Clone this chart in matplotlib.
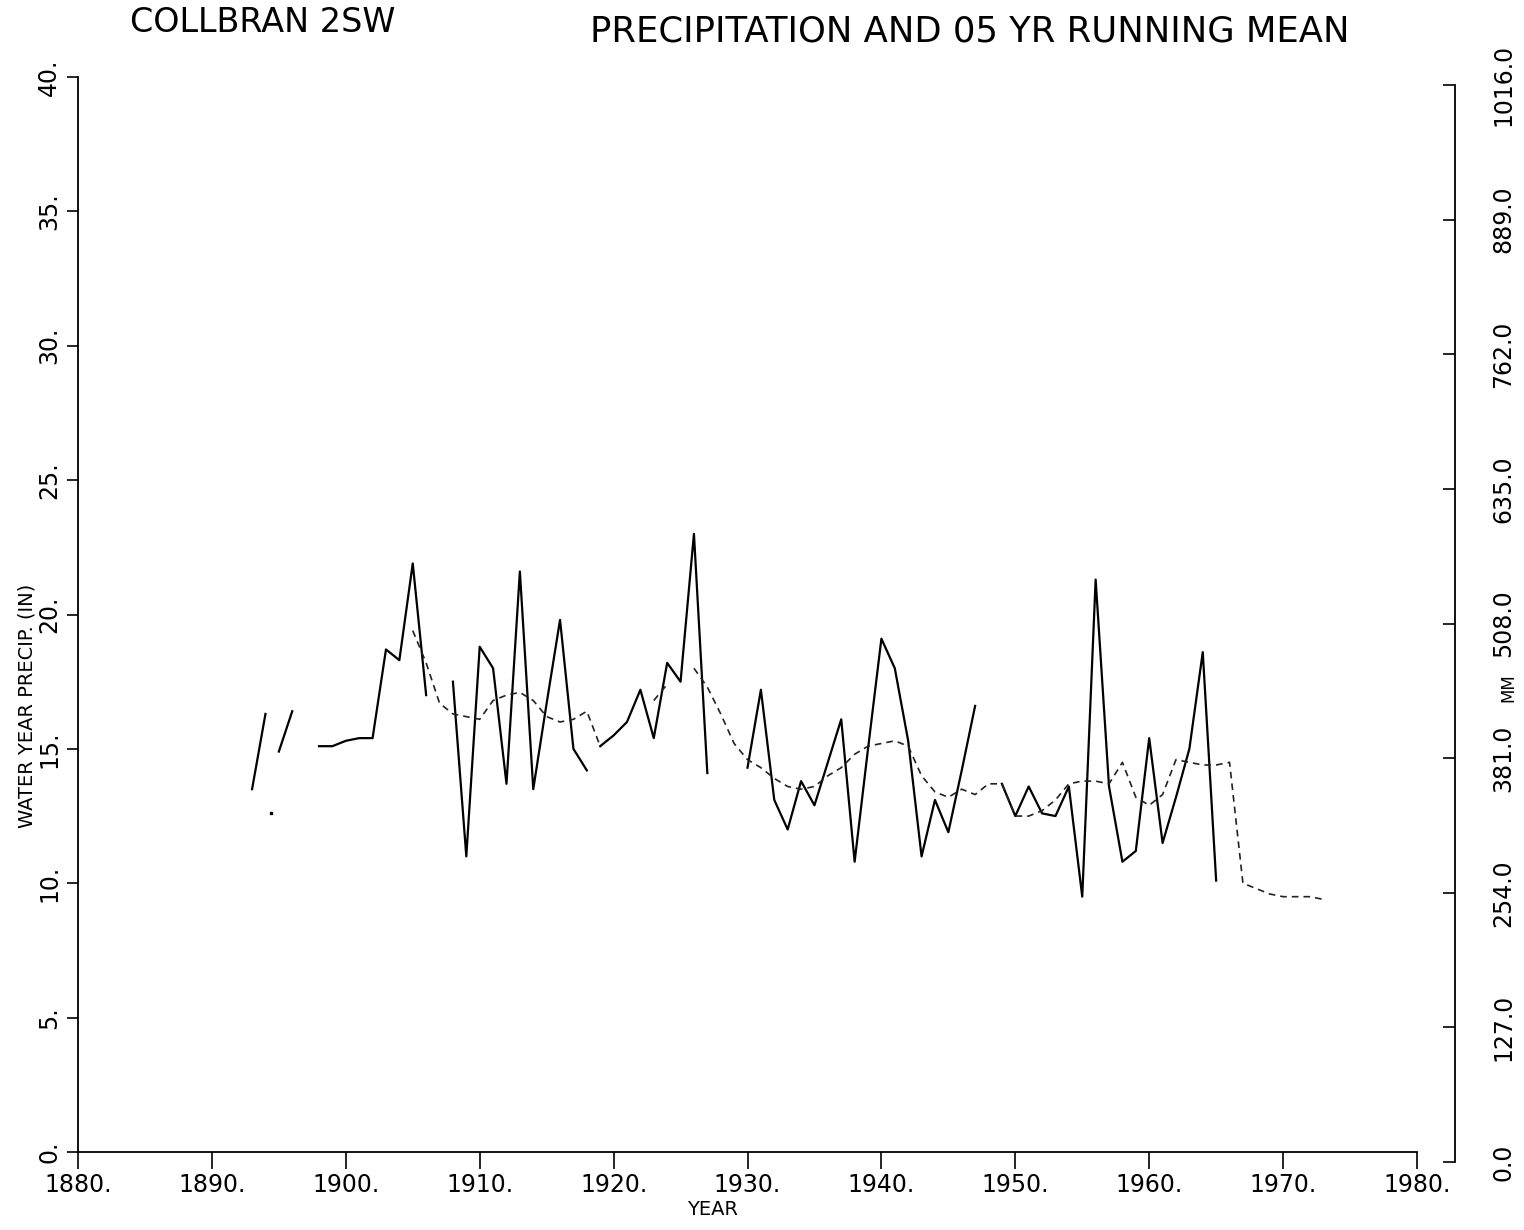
import numpy as np
import matplotlib
matplotlib.use("Agg")
import matplotlib.pyplot as plt

nan = np.nan

# annual water year precipitation (inches), nan = break in the pen line
ann_years = [1893, 1894, 1894.5, 1895, 1896, 1897, 1898, 1899, 1900, 1901,
             1902, 1903, 1904, 1905, 1906, 1907, 1908, 1909, 1910, 1911,
             1912, 1913, 1914, 1915, 1916, 1917, 1918, 1918.5, 1919, 1920,
             1921, 1922, 1923, 1924, 1925, 1926, 1927, 1928, 1929, 1930,
             1931, 1932, 1933, 1934, 1935, 1936, 1937, 1938, 1939, 1940,
             1941, 1942, 1943, 1944, 1945, 1946, 1947, 1948, 1949, 1950,
             1951, 1952, 1953, 1954, 1955, 1956, 1957, 1958, 1959, 1960,
             1961, 1962, 1963, 1964, 1965]
ann_prcp = [13.5, 16.3, nan, 14.9, 16.4, nan, 15.1, 15.1, 15.3, 15.4,
            15.4, 18.7, 18.3, 21.9, 17.0, nan, 17.5, 11.0, 18.8, 18.0,
            13.7, 21.6, 13.5, 16.7, 19.8, 15.0, 14.2, nan, 15.1, 15.5,
            16.0, 17.2, 15.4, 18.2, 17.5, 23.0, 14.1, nan, nan, 14.3,
            17.2, 13.1, 12.0, 13.8, 12.9, 14.5, 16.1, 10.8, 15.0, 19.1,
            18.0, 15.3, 11.0, 13.1, 11.9, 14.2, 16.6, nan, 13.7, 12.5,
            13.6, 12.6, 12.5, 13.6, 9.5, 21.3, 13.6, 10.8, 11.2, 15.4,
            11.5, 13.2, 15.0, 18.6, 10.1]

# 5 yr running mean
mean_years = list(range(1905, 1974))
mean_prcp = [19.4, 18.2, 16.7, 16.3, 16.2, 16.1, 16.8, 17.0, 17.1, 16.8,
             16.2, 16.0, 16.1, 16.4, 15.1, nan, nan, nan, 16.8, 17.4,
             nan, 18.0, 17.3, 16.3, 15.2, 14.6, 14.3, 13.9, 13.6, 13.5,
             13.6, 14.0, 14.3, 14.8, 15.1, 15.2, 15.3, 15.1, 14.0, 13.4,
             13.2, 13.5, 13.3, 13.7, 13.7, 12.5, 12.5, 12.7, 13.1, 13.7,
             13.8, 13.8, 13.7, 14.5, 13.2, 12.9, 13.3, 14.6, 14.5, 14.4,
             14.4, 14.5, 10.0, 9.8, 9.6, 9.5, 9.5, 9.5, 9.4]

stray_year = [1894.4]
stray_prcp = [12.6]

x_ticks = list(range(1880, 1990, 10))
in_ticks = [0, 5, 10, 15, 20, 25, 30, 35, 40]
mm_ticks = [0.0, 127.0, 254.0, 381.0, 508.0, 635.0, 762.0, 889.0, 1016.0]

plt.rcParams['font.family'] = ['DejaVu Sans']

fig = plt.figure(figsize=(15.24, 12.30), dpi=100)
ax = fig.add_axes([78/1524, 1 - 1152/1230, (1417-78)/1524, (1152-77)/1230])

ax.plot(ann_years, ann_prcp, color='black', lw=1.6)
ax.plot(mean_years, mean_prcp, color='#222222', lw=1.2, ls=(0, (4, 3)))
ax.plot(stray_year, stray_prcp, 's', color='black', ms=2)

ax.set_xlim(1880, 1980)
ax.set_ylim(0, 40)
ax.spines['top'].set_visible(False)
ax.spines['right'].set_visible(False)
ax.set_xticks(x_ticks)
ax.set_xticklabels([str(t) + '.' for t in x_ticks], fontsize=17)
ax.set_yticks(in_ticks)
ax.set_yticklabels([str(t) + '.' for t in in_ticks], fontsize=17,
                   rotation=90, va='center')
ax.tick_params(axis='x', length=12, width=1.2, pad=3)
ax.tick_params(axis='y', length=8, width=1.2, pad=4)
for s in ax.spines.values():
    s.set_linewidth(1.3)
ax.set_xlabel('YEAR', fontsize=14)
ax.xaxis.set_label_coords(0.474, -0.045)
ax.set_ylabel('WATER YEAR PRECIP. (IN)', fontsize=14)
ax.yaxis.set_label_coords(-0.031, 0.415)

# metric axis on the right
ax2 = fig.add_axes([78/1524, 1 - 1162/1230, (1455-78)/1524, (1162-85)/1230])
ax2.patch.set_visible(False)
for k in ['top', 'left', 'bottom']:
    ax2.spines[k].set_visible(False)
ax2.spines['right'].set_linewidth(1.3)
ax2.set_xticks([])
ax2.yaxis.tick_right()
ax2.set_ylim(0, 1016)
ax2.set_yticks(mm_ticks)
ax2.set_yticklabels(['%.1f' % t for t in mm_ticks], fontsize=17,
                    rotation=90, va='center')
ax2.tick_params(axis='y', direction='in', length=9, width=1.2, pad=26)
ax2.yaxis.set_label_position('right')
ax2.set_ylabel('MM', fontsize=12, rotation=90)
ax2.yaxis.set_label_coords(1.032, 0.44)

fig.text(130/1524, 1 - 22/1230, 'COLLBRAN 2SW', fontsize=24, va='center', ha='left')
fig.text(590/1524, 1 - 32/1230, 'PRECIPITATION AND 05 YR RUNNING MEAN',
         fontsize=25.5, va='center', ha='left')

fig.savefig('out.png', dpi=100)
